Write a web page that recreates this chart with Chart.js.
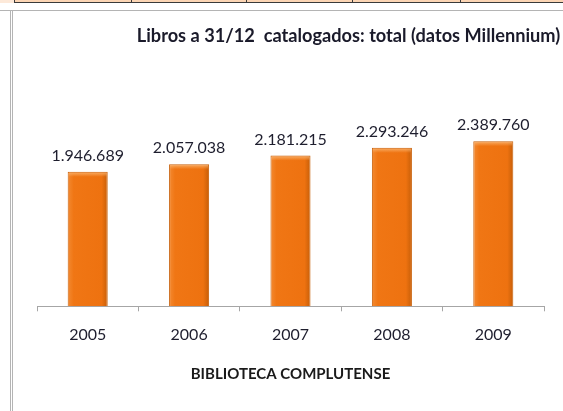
<!DOCTYPE html>
<html>
<head>
<meta charset="utf-8">
<script src="https://cdn.jsdelivr.net/npm/chart.js@4"></script>
<style>
  html, body { margin: 0; padding: 0; background: #fff; overflow: hidden; width: 563px; height: 411px; }
  .strip { position: absolute; left: 0; top: 0; width: 563px; height: 2px; background: #fcd5b4; }
  .strip-left { position: absolute; left: 0; top: 0; width: 14px; height: 3px; background: #fde9d9; }
  .strip-line { position: absolute; left: 14px; top: 2px; width: 549px; height: 1px; background: #3a3a3a; }
  .cell { position: absolute; top: 0; width: 1px; height: 3px; background: #3a3a3a; }
  .hline { position: absolute; left: 0; top: 10px; width: 563px; height: 1px; background: #b4b4b4; }
  .vline { position: absolute; top: 10px; width: 1px; height: 401px; background: #b4b4b4; }
  #wrap { position: absolute; left: 14px; top: 12px; width: 549px; height: 399px; }
</style>
</head>
<body>
<div class="strip"></div>
<div class="strip-left"></div>
<div class="strip-line"></div>
<div class="cell" style="left:14px"></div>
<div class="cell" style="left:131px"></div>
<div class="cell" style="left:246px"></div>
<div class="cell" style="left:352px"></div>
<div class="cell" style="left:460px"></div>
<div class="hline"></div>
<div class="vline" style="left:10px"></div>
<div class="vline" style="left:12px"></div>
<div id="wrap"><canvas id="myBarChart" width="549" height="399"></canvas></div>

<script>
// values
const years = ["2005", "2006", "2007", "2008", "2009"];
const librosCatalogados = [1946689, 2057038, 2181215, 2293246, 2389760];
const chartTitle = "Libros a 31/12  catalogados: total (datos Millennium)";
const axisTitle = "BIBLIOTECA COMPLUTENSE";

const BAR_PCT = 0.395;

// 1946689 -> "1.946.689"
function formatNumber(n) {
  return String(n).replace(/\B(?=(\d{3})+(?!\d))/g, ".");
}

// title is off-centre in the original (the chart is cut on the right), so draw it by hand
const offsetTitle = {
  id: "offsetTitle",
  afterDraw(chart) {
    const ctx = chart.ctx;
    ctx.save();
    ctx.font = "bold 18.2px Lato";
    ctx.fillStyle = "#1a1a2a";
    ctx.textAlign = "center";
    ctx.textBaseline = "middle";
    ctx.fillText(chartTitle, 334.5, 24);
    ctx.restore();
  },
};

// value above each bar + light bevel on the bar top
const valueLabels = {
  id: "valueLabels",
  afterDatasetsDraw(chart) {
    const ctx = chart.ctx;
    const meta = chart.getDatasetMeta(0);
    ctx.save();
    meta.data.forEach((bar) => {
      const half = bar.width / 2;
      const g = ctx.createLinearGradient(0, bar.y, 0, bar.y + 5);
      g.addColorStop(0, "rgba(250,180,110,0.95)");
      g.addColorStop(1, "rgba(250,180,110,0)");
      ctx.fillStyle = g;
      ctx.fillRect(bar.x - half + 1, bar.y + 1, bar.width - 2, 5);
    });
    ctx.font = "16px Lato";
    ctx.fillStyle = "#1e1e2e";
    ctx.textAlign = "center";
    ctx.textBaseline = "middle";
    meta.data.forEach((bar, i) => {
      ctx.fillText(formatNumber(librosCatalogados[i]), bar.x, bar.y - 16);
    });
    ctx.restore();
  },
};

// orange bar with a darker right edge
function barFill(context) {
  const chart = context.chart;
  const xScale = chart.scales.x;
  if (!chart.chartArea || !xScale || context.dataIndex === undefined) return "#ef7512";
  const cx = xScale.getPixelForValue(context.dataIndex);
  const half = (xScale.width / years.length) * BAR_PCT / 2;
  if (!Number.isFinite(cx) || !Number.isFinite(half)) return "#ef7512";
  const g = chart.ctx.createLinearGradient(cx - half, 0, cx + half, 0);
  g.addColorStop(0, "#f38a32");
  g.addColorStop(0.15, "#f07614");
  g.addColorStop(0.85, "#ee7210");
  g.addColorStop(1, "#c65e08");
  return g;
}

new Chart(document.getElementById("myBarChart").getContext("2d"), {
  type: "bar",
  data: {
    labels: years,
    datasets: [
      {
        label: "Libros catalogados",
        data: librosCatalogados,
        backgroundColor: barFill,
        borderColor: "#c8600a",
        borderWidth: 1,
        barPercentage: BAR_PCT,
        categoryPercentage: 1,
      },
    ],
  },
  options: {
    responsive: false,
    animation: false,
    layout: {
      padding: { left: 23, right: 19, top: 87, bottom: 28 },
    },
    scales: {
      y: {
        display: false,
        min: 0,
        max: 3000000,
      },
      x: {
        type: "category",
        grid: {
          drawOnChartArea: false,
          drawTicks: true,
          tickLength: 5,
          color: "#a6a6a6",
        },
        border: { display: true, color: "#a6a6a6", width: 1 },
        ticks: {
          padding: 14,
          color: "#1e1e2e",
          font: { family: "Lato", size: 16 },
        },
        title: {
          display: true,
          text: axisTitle,
          color: "#1a1a1a",
          font: { family: "Lato", size: 15, weight: "bold" },
          padding: { top: 6.5, bottom: 0 },
        },
      },
    },
    plugins: {
      legend: { display: false },
      tooltip: { enabled: false },
      title: { display: false },
    },
  },
  plugins: [valueLabels, offsetTitle],
});
</script>
</body>
</html>
